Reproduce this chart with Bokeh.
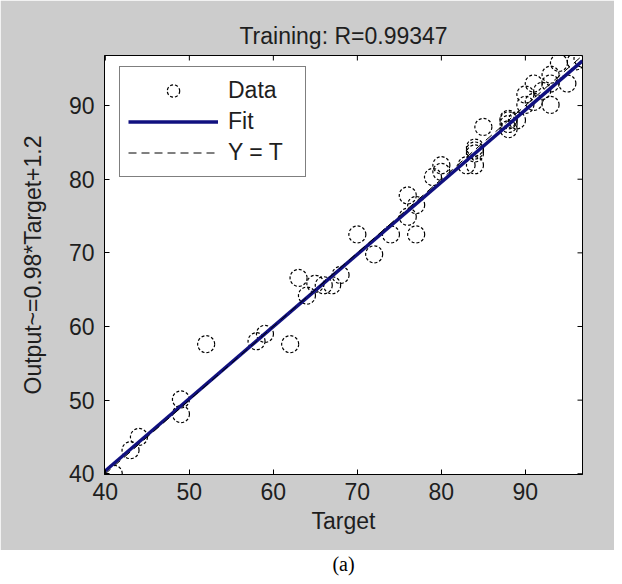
import math
from bokeh.plotting import figure
from bokeh.models import Legend, LegendItem, FixedTicker, Range1d
from bokeh.layouts import column
from bokeh.embed import file_html
from bokeh.resources import INLINE
from bokeh.core.properties import value

# ---- data ----
target = [41, 43, 44, 49, 49, 52, 58, 59, 62, 63, 64, 65, 66, 67, 68, 70, 72, 74, 76, 76,
          77, 77, 79, 80, 80, 83, 84, 84, 84, 84, 85, 88, 88, 88, 88, 89, 90, 90, 91, 91,
          92, 93, 93, 93, 94, 95, 96, 96.8]
output = [40.0, 43.2, 45.0, 50.1, 48.1, 57.6, 58.0, 59.0, 57.6, 66.6, 64.2, 65.8, 65.6, 65.6, 67.0,
          72.5, 69.8, 72.5, 74.9, 77.8, 76.5, 72.5, 80.3, 81.9, 81.0, 81.9, 81.9, 84.3, 83.5, 83.9,
          87.1, 88.0, 86.8, 87.5, 88.2, 88.0, 90.1, 91.5, 90.5, 93.0, 92.0, 90.1, 93.0, 94.2, 95.8,
          93.0, 96.0, 96.4]
fit_slope = 0.98
fit_intercept = 1.2
axis_limits = [39.9, 96.8]
tick_values = [40, 50, 60, 70, 80, 90]
title_text = "Training: R=0.99347"
x_label = "Target"
y_label = "Output~=0.98*Target+1.2"
legend_labels = ["Data", "Fit", "Y = T"]
caption_text = "(a)"

FONT = "Liberation Sans"
FS = "23px"
TXT = "#1e1e1e"
GRAY = "#cccccc"

p = figure(frame_width=478, frame_height=419,
           x_range=Range1d(*axis_limits), y_range=Range1d(*axis_limits),
           output_backend="svg", toolbar_location=None,
           background_fill_color="white", border_fill_color=GRAY,
           min_border_left=104, min_border_right=32, min_border_top=55, min_border_bottom=76,
           x_axis_label=x_label, y_axis_label=y_label)
p.grid.visible = False
p.outline_line_color = "black"
p.outline_line_width = 1

p.title.text = title_text
p.title.align = "center"
p.title.text_font = FONT
p.title.text_font_size = FS
p.title.text_font_style = "normal"
p.title.text_color = TXT
p.title.standoff = 14

for ax in p.axis:
    ax.ticker = FixedTicker(ticks=tick_values)
    ax.major_tick_in = 5
    ax.major_tick_out = 0
    ax.minor_tick_in = 0
    ax.minor_tick_out = 0
    ax.axis_line_color = "black"
    ax.major_label_text_font = FONT
    ax.major_label_text_font_size = FS
    ax.major_label_text_color = TXT
    ax.axis_label_text_font = FONT
    ax.axis_label_text_font_size = FS
    ax.axis_label_text_font_style = "normal"
    ax.axis_label_text_color = TXT
p.xaxis.major_label_standoff = 8
p.xaxis.axis_label_standoff = 5
p.yaxis.major_label_standoff = 10
p.yaxis.axis_label_standoff = 20

# inward ticks on the top and right box edges (half of each dash is clipped by the frame)
lo, hi = axis_limits
p.scatter(tick_values, [hi] * len(tick_values), marker="dash", angle=math.pi / 2,
          size=10, line_color="black", line_width=1)
p.scatter([hi] * len(tick_values), tick_values, marker="dash",
          size=10, line_color="black", line_width=1)

r_data = p.scatter(target, output, marker="circle", size=17, fill_color=None,
                   line_color="black", line_width=1.2, line_dash="3 2")
xs = list(axis_limits)
r_fit = p.line(xs, [fit_slope * x + fit_intercept for x in xs], line_color="#10107f", line_width=3.5)
r_id = p.line(xs, xs, line_color="black", line_width=1, line_dash="8 5")

legend = Legend(items=[LegendItem(label=legend_labels[0], renderers=[r_data]),
                       LegendItem(label=legend_labels[1], renderers=[r_fit]),
                       LegendItem(label=legend_labels[2], renderers=[r_id])],
                location=(15, 297), border_line_color="black", border_line_width=1,
                background_fill_color="white", background_fill_alpha=1,
                label_text_font=FONT, label_text_font_size=FS, label_text_color=TXT,
                glyph_width=90, glyph_height=31, label_height=31, label_width=69, spacing=0,
                padding=8, margin=0, label_standoff=10)
p.add_layout(legend)

cap = figure(width=614, height=26, output_backend="svg", toolbar_location=None,
             x_range=Range1d(0, 1), y_range=Range1d(0, 1), x_axis_type=None, y_axis_type=None,
             min_border=0, background_fill_color="white", border_fill_color="white")
cap.outline_line_color = None
cap.grid.visible = False
cap.text(x=[0.5], y=[0.5], text=[caption_text], text_align="center", text_baseline="middle",
         text_font=value("Liberation Serif"), text_font_size="20px", text_color="black")

layout = column(p, cap, spacing=0)
open("out.html", "w").write(file_html(layout, INLINE))
